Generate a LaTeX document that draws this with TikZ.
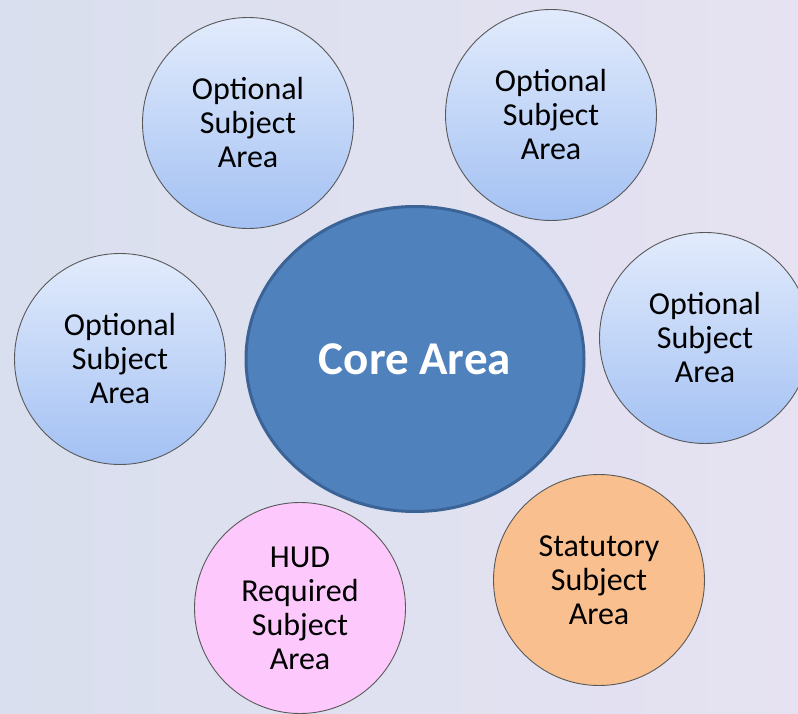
\documentclass[tikz,border=0pt]{standalone}
\usepackage{fontspec}
\setmainfont{Carlito}
\usetikzlibrary{shapes.geometric}
\definecolor{bgleft}{HTML}{D9DFEE}
\definecolor{bgright}{HTML}{E6E2F2}
\definecolor{optlight}{HTML}{E2EBFC}
\definecolor{optdark}{HTML}{A3C1F3}
\definecolor{corefill}{HTML}{4F81BD}
\definecolor{coreline}{HTML}{3C6396}
\definecolor{hudpink}{HTML}{FDC9FD}
\definecolor{statorange}{HTML}{F9BF8E}
\begin{document}
\begin{tikzpicture}[x=1pt,y=-1pt,
	every node/.style={circle,draw=black!65,line width=0.9pt,minimum size=211pt,inner sep=1pt,
	align=center,font=\fontsize{32}{34}\selectfont},
	opt/.style={top color=optlight,bottom color=optdark},
	core/.style={ellipse,fill=corefill,draw=coreline,line width=3pt,
	minimum width=338pt,minimum height=305pt,text=white,font=\fontsize{47}{50}\selectfont\bfseries}]
\useasboundingbox (0,0) rectangle (798,714);
\clip (0,0) rectangle (798,714);
\shade[left color=bgleft,right color=bgright] (0,0) rectangle (798,714);
\node[core] (core) at (415,359) {Core Area};
\node[opt] (opttl) at (248,123) {Optional\\Subject\\Area};
\node[opt] (opttr) at (551,115) {Optional\\Subject\\Area};
\node[opt] (optl) at (120,359) {Optional\\Subject\\Area};
\node[opt] (optr) at (705,338) {Optional\\Subject\\Area};
\node[fill=hudpink] (hud) at (300,608) {HUD\\Required\\Subject\\Area};
\node[fill=statorange] (stat) at (599,580) {Statutory\\Subject\\Area};
\end{tikzpicture}
\end{document}
